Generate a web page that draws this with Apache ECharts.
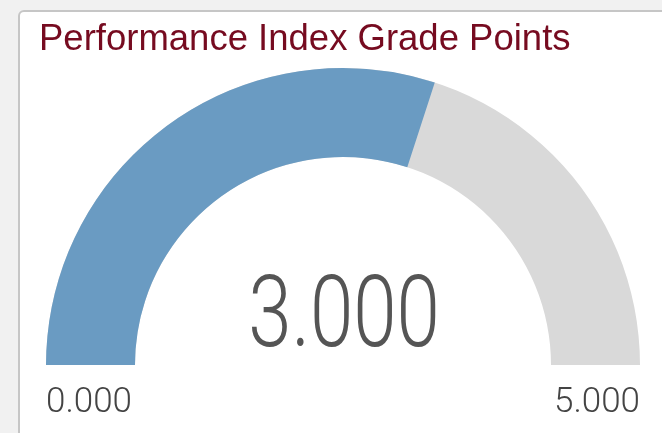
<!DOCTYPE html>
<html>
<head>
<meta charset="utf-8">
<script src="https://cdn.jsdelivr.net/npm/echarts@6/dist/echarts.min.js"></script>
<style>
  html, body { margin: 0; padding: 0; background: #f1f1f1; }
  .card {
    position: absolute; left: 18px; top: 10px; width: 700px; height: 500px;
    background: #fff; border: 2px solid #c6c6c6; border-radius: 6px;
  }
  #chart { position: absolute; left: 0; top: 0; width: 662px; height: 433px; }
</style>
</head>
<body>
<div class="card"></div>
<div id="chart"></div>
<script>
const TITLE = 'Performance Index Grade Points'
const GAUGE_MIN = 0
const GAUGE_MAX = 5
const VALUE = 3

const chart = echarts.init(document.getElementById('chart'))

const option = {
  backgroundColor: 'transparent',
  title: {
    text: TITLE,
    left: 34,
    top: 16,
    textStyle: {
      color: '#760b20',
      fontFamily: 'Liberation Sans, Arial, sans-serif',
      fontWeight: 'normal',
      fontSize: 36.5,
    },
  },
  series: [
    {
      type: 'gauge',
      center: [343, 365],
      radius: 297,
      startAngle: 180,
      endAngle: 0,
      min: GAUGE_MIN,
      max: GAUGE_MAX,
      splitNumber: 1,
      pointer: { show: false },
      anchor: { show: false },
      progress: {
        show: true,
        width: 89,
        roundCap: false,
        itemStyle: { color: '#6a9bc2' },
      },
      axisLine: {
        roundCap: false,
        lineStyle: { width: 89, color: [[1, '#d9d9d9']] },
      },
      axisTick: { show: false },
      splitLine: { show: false, length: 0, distance: 0 },
      axisLabel: {
        show: true,
        distance: 0,
        color: '#444',
        fontFamily: 'Roboto, sans-serif',
        fontWeight: 300,
        fontSize: 35,
        lineHeight: 38,
        // push the end labels below the arc
        formatter: (v) => '\n\n' + v.toFixed(3),
      },
      title: { show: false },
      detail: { show: false },
      data: [{ value: VALUE }],
    },
  ],
  graphic: [
    {
      type: 'text',
      x: 344,
      y: 321,
      scaleX: 0.78,
      silent: true,
      style: {
        text: VALUE.toFixed(3),
        align: 'center',
        verticalAlign: 'middle',
        fill: '#555555',
        fontFamily: 'Roboto, sans-serif',
        fontWeight: 300,
        fontSize: 100,
      },
    },
  ],
}

chart.setOption(option)
</script>
</body>
</html>
